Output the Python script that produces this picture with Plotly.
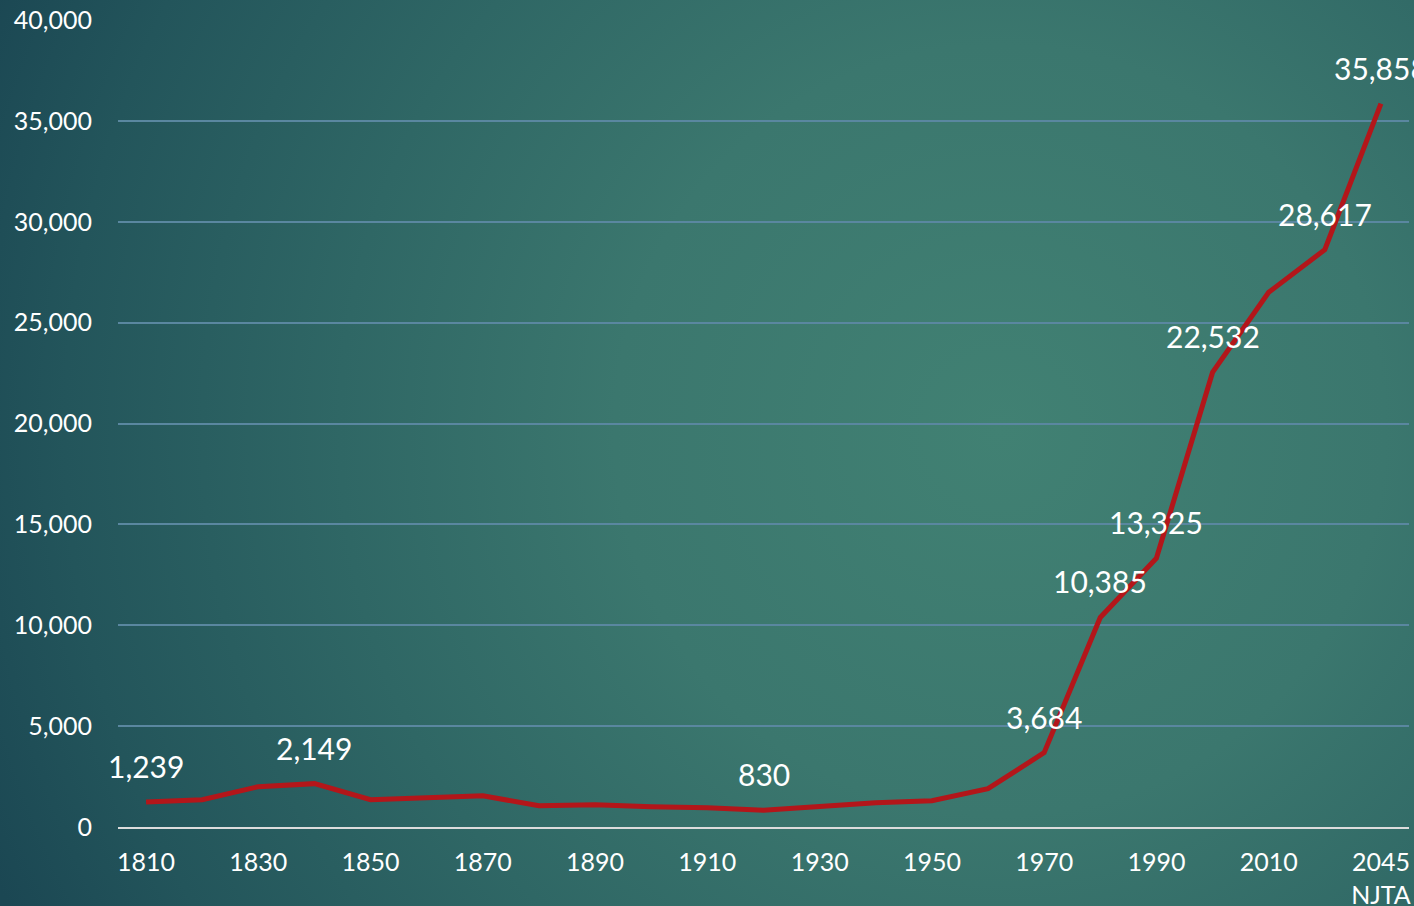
import base64
import plotly.graph_objects as go

# ---- data ----
categories = ["1810", "1820", "1830", "1840", "1850", "1860", "1870", "1880",
              "1890", "1900", "1910", "1920", "1930", "1940", "1950", "1960",
              "1970", "1980", "1990", "2000", "2010", "2020", "2045<br>NJTA"]
population = [1239, 1350, 2000, 2149, 1350, 1450, 1550, 1050,
              1100, 1000, 950, 830, 1000, 1200, 1300, 1900,
              3684, 10385, 13325, 22532, 26500, 28617, 35858]
labeled = ["1810", "1840", "1920", "1970", "1980", "1990", "2000", "2020", "2045<br>NJTA"]
y_ticks = [0, 5000, 10000, 15000, 20000, 25000, 30000, 35000, 40000]

W, H = 1414, 906
ML, MR, MT, MB = 118, 5, 20, 79

# ---- background radial gradient (SVG) ----
svg = f'''<svg xmlns="http://www.w3.org/2000/svg" width="{W}" height="{H}" viewBox="0 0 {W} {H}" preserveAspectRatio="none">
<defs><radialGradient id="g" gradientUnits="userSpaceOnUse" cx="1000" cy="430" r="1100">
<stop offset="0" stop-color="#418173"/>
<stop offset="0.35" stop-color="#3b776e"/>
<stop offset="0.6" stop-color="#2f6765"/>
<stop offset="0.85" stop-color="#23555b"/>
<stop offset="1" stop-color="#1b4753"/>
</radialGradient></defs>
<rect x="0" y="0" width="{W}" height="{H}" fill="url(#g)"/>
</svg>'''
bg_src = "data:image/svg+xml;base64," + base64.b64encode(svg.encode()).decode()

pw = W - ML - MR
ph = H - MT - MB

fig = go.Figure()
fig.add_trace(go.Scatter(
    x=categories, y=population, mode="lines",
    line=dict(color="#b3161a", width=5),
    hoverinfo="skip", showlegend=False,
))

for i, (cat, val) in enumerate(zip(categories, population)):
    if cat in labeled:
        fig.add_annotation(
            x=i, y=val, text=f"{val:,}", showarrow=False,
            yshift=36, xanchor="center", yanchor="middle",
            font=dict(family="Lato", size=30, color="white"),
        )

fig.add_layout_image(dict(
    source=bg_src, xref="paper", yref="paper",
    x=-ML / pw, y=1 + MT / ph, sizex=W / pw, sizey=H / ph,
    xanchor="left", yanchor="top", sizing="stretch", layer="below",
))

fig.update_layout(
    width=W, height=H,
    margin=dict(l=ML, r=MR, t=MT, b=MB, pad=0, autoexpand=False),
    paper_bgcolor="#1b4753", plot_bgcolor="rgba(0,0,0,0)",
    font=dict(family="Lato", size=25, color="white"),
    xaxis=dict(
        type="category", range=[-0.5, 22.5], dtick=2, automargin=False,
        showgrid=False, showline=True, linecolor="#dcdcdc", linewidth=2,
        ticks="outside", ticklen=12, tickcolor="rgba(0,0,0,0)",
        tickfont=dict(family="Lato", size=25, color="white"),
        fixedrange=True,
    ),
    yaxis=dict(
        range=[0, 40000], tickvals=y_ticks, ticktext=[f"{v:,}" for v in y_ticks],
        automargin=False,
        showgrid=True, gridcolor="#5a87a0", gridwidth=2, zeroline=False,
        showline=False,
        ticks="outside", ticklen=20, tickcolor="rgba(0,0,0,0)",
        tickfont=dict(family="Lato", size=25, color="white"),
        fixedrange=True,
    ),
)

fig.write_html(
    "out.html",
    config={"displayModeBar": False},
    post_script="document.body.style.margin='0';document.body.style.overflow='hidden';",
)
